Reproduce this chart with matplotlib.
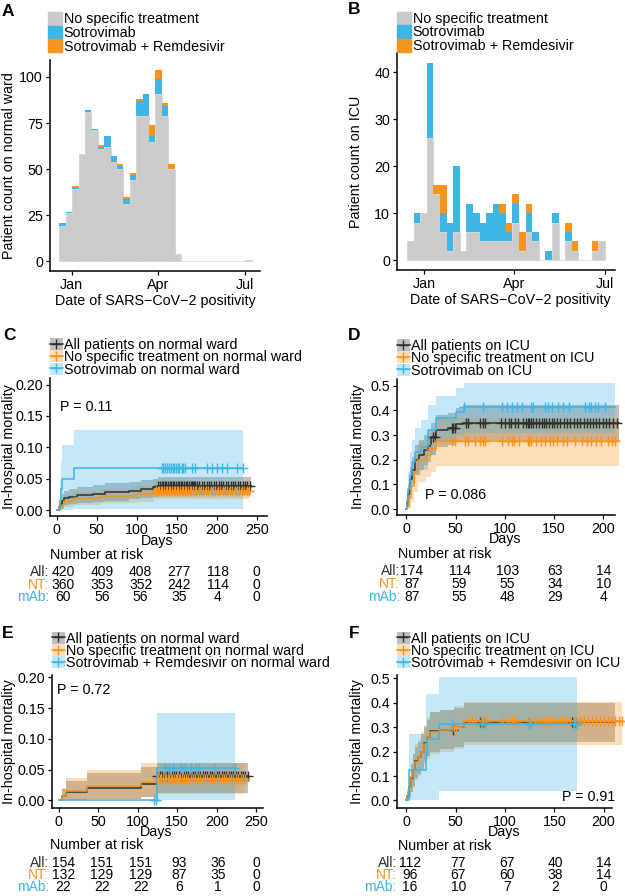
import numpy as np
import matplotlib
matplotlib.use('Agg')
import matplotlib.pyplot as plt
import matplotlib.dates as mdates
from matplotlib.patches import Patch
from matplotlib.lines import Line2D
from matplotlib.transforms import blended_transform_factory

plt.rcParams['font.family'] = ['Liberation Sans', 'DejaVu Sans']
plt.rcParams['font.size'] = 10

W, H = 625, 896
GRAY = '#CBCBCB'
BLUE = '#3DB5E6'
ORANGE = '#F7931E'
BLACK = '#2F2F2F'

# ---- histograms (30 bins each) ----
ward_none = [19, 26, 39, 58, 81, 71, 61, 62, 54, 50, 31, 44, 79, 79, 65, 91, 79, 50, 4, 0, 0, 0, 0, 0, 0, 0, 0, 0, 0, 1]
ward_sotro = [2, 1, 1, 0, 1, 1, 1, 6, 3, 2, 3, 3, 8, 12, 3, 8, 5, 0, 0, 0, 0, 0, 0, 0, 0, 0, 0, 0, 0, 0]
ward_remd = [0, 0, 1, 0, 0, 0, 1, 0, 0, 1, 1, 1, 1, 0, 6, 5, 2, 3, 0, 0, 0, 0, 0, 0, 0, 0, 0, 0, 0, 0]
ward_first_bin = '2021-12-19'
ward_bin_days = 6.7

icu_none = [4, 8, 10, 26, 14, 6, 2, 6, 2, 6, 6, 4, 4, 4, 4, 4, 8, 2, 6, 4, 0, 0, 8, 0, 4, 2, 0, 0, 2, 4]
icu_sotro = [0, 2, 0, 16, 0, 4, 6, 14, 0, 6, 4, 4, 6, 8, 6, 2, 4, 0, 4, 2, 0, 2, 2, 0, 2, 0, 0, 0, 0, 0]
icu_remd = [0, 0, 0, 0, 2, 6, 0, 0, 0, 0, 0, 0, 0, 0, 2, 2, 2, 4, 2, 0, 0, 0, 0, 0, 2, 2, 0, 0, 2, 0]
icu_first_bin = '2021-12-15'
icu_bin_days = 6.6

hist_labels = ['No specific treatment', 'Sotrovimab', 'Sotrovimab + Remdesivir']

# ---- Kaplan-Meier curves (cumulative mortality) ----
# C: normal ward, sotrovimab
c_all_t = [0, 3, 5, 7, 9, 15, 25, 45, 60, 90, 105, 120, 126]
c_all_m = [0, .005, .01, .014, .019, .021, .024, .026, .029, .031, .034, .036, .039]
c_all_lo = [0, 0, .002, .004, .008, .009, .011, .013, .015, .017, .019, .021, .024]
c_all_hi = [0, .012, .02, .025, .031, .033, .037, .04, .043, .045, .048, .05, .052]
c_all_end = 243
c_all_cens = [127, 129, 131, 133, 135, 137, 139, 141, 143, 145, 147, 149, 151, 153, 155, 157, 159, 161, 163,
              165, 167, 169, 170, 171, 173, 175, 178, 181, 184, 187, 190, 193, 196, 199, 202, 205, 208, 211,
              214, 217, 220, 223, 226, 229, 232, 235, 238, 241]
c_nt_t = [0, 3, 6, 9, 22, 55, 100, 122]
c_nt_m = [0, .003, .008, .014, .019, .023, .026, .031]
c_nt_lo = [0, 0, .001, .005, .008, .011, .013, .017]
c_nt_hi = [0, .009, .016, .024, .029, .034, .038, .046]
c_nt_end = 240
c_nt_cens = [124, 126, 128, 130, 132, 134, 136, 138, 140, 142, 144, 146, 148, 150, 152, 154, 156, 158, 160,
             162, 164, 166, 168, 170, 172, 174, 177, 180, 183, 186, 189, 192, 195, 198, 201, 204, 207, 210,
             213, 216, 219, 222, 225, 228, 231, 234, 237, 240]
c_mab_t = [0, 4, 5, 7, 22]
c_mab_m = [0, .0167, .033, .05, .0667]
c_mab_lo = [0, 0, 0, 0, .002]
c_mab_hi = [0, .048, .078, .104, .128]
c_mab_end = 232
c_mab_cens = [131, 133, 135, 138, 140, 143, 145, 147, 149, 151, 153, 156, 158, 160, 169, 173, 187, 194, 200,
              206, 212, 225, 232]

# D: ICU, sotrovimab
d_all_t = [0, 1, 2, 4, 6, 9, 13, 18, 22, 25, 30, 42, 50, 57]
d_all_m = [0, .023, .06, .12, .16, .2, .22, .24, .255, .29, .32, .33, .345, .35]
d_all_lo = [0, 0, .023, .07, .1, .14, .16, .18, .19, .22, .25, .26, .275, .28]
d_all_hi = [0, .046, .1, .17, .21, .26, .28, .3, .32, .35, .38, .39, .41, .42]
d_all_end = 216
d_all_cens = [27, 29, 46, 47, 49, 61, 63, 75, 78, 80, 96, 100, 104, 106, 110, 113, 118, 121, 123, 125, 127,
              129, 132, 135, 138, 140, 142, 145, 148, 150, 153, 156, 160, 163, 166, 170, 173, 176, 180, 183,
              186, 190, 193, 196, 200, 203, 206, 210, 214]
d_nt_t = [0, 1, 3, 5, 8, 12, 20, 25, 30]
d_nt_m = [0, .011, .046, .092, .15, .2, .22, .243, .275]
d_nt_lo = [0, 0, 0, .03, .07, .11, .13, .15, .175]
d_nt_hi = [0, .034, .09, .15, .22, .27, .29, .32, .37]
d_nt_end = 216
d_nt_cens = [25, 46, 49, 59, 63, 70, 75, 78, 80, 97, 103, 107, 109, 114, 124, 125, 127, 132, 137, 141, 146,
             149, 153, 159, 163, 171, 178, 183, 188, 193, 198, 205, 209, 212]
d_mab_t = [0, 1, 2, 4, 6, 9, 15, 22, 30, 50, 58]
d_mab_m = [0, .035, .08, .14, .19, .232, .253, .32, .368, .392, .414]
d_mab_lo = [0, 0, .01, .06, .1, .14, .16, .22, .27, .3, .31]
d_mab_hi = [0, .08, .15, .23, .28, .33, .36, .42, .46, .49, .51]
d_mab_end = 212
d_mab_cens = [58, 78, 97, 102, 107, 112, 117, 127, 129, 141, 144, 148, 154, 159, 165, 181, 185, 188, 192,
              195, 202]

# E: normal ward, sotrovimab + remdesivir
e_all_t = [0, 4, 9, 36, 104, 124]
e_all_m = [0, .0065, .013, .0195, .026, .039]
e_all_lo = [0, 0, 0, .002, .006, .012]
e_all_hi = [0, .018, .032, .045, .055, .06]
e_all_end = 240
e_all_cens = [125, 128, 131, 134, 137, 140, 143, 146, 149, 152, 155, 158, 161, 164, 167, 170, 173, 176, 179,
              182, 185, 188, 191, 194, 197, 200, 203, 206, 209, 212, 215, 218, 221, 224, 227, 230, 233, 236, 239]
e_nt_t = [0, 4, 9, 36, 104, 124]
e_nt_m = [0, .0076, .015, .0227, .03, .034]
e_nt_lo = [0, 0, 0, .002, .006, .01]
e_nt_hi = [0, .02, .036, .049, .061, .061]
e_nt_end = 236
e_nt_cens = [124, 126, 128, 130, 132, 134, 136, 138, 140, 142, 144, 146, 148, 150, 152, 154, 156, 158, 161,
             164, 167, 170, 173, 176, 179, 182, 185, 188, 191, 194, 197, 200, 203, 206, 209, 212, 215, 218,
             221, 224, 227, 230, 233, 236]
e_mab_t = [0, 124]
e_mab_m = [0, .052]
e_mab_lo = [0, 0]
e_mab_hi = [0, .142]
e_mab_end = 223
e_mab_cens = [120, 123, 135, 139, 145, 155, 160, 168, 174, 177, 197, 223]

# F: ICU, sotrovimab + remdesivir
f_all_t = [0, 1, 3, 5, 7, 9, 12, 15, 18, 21, 24, 34, 48, 58]
f_all_m = [0, .018, .054, .09, .125, .16, .178, .2, .235, .26, .285, .29, .3, .32]
f_all_lo = [0, 0, .01, .035, .06, .09, .11, .13, .16, .18, .2, .21, .22, .24]
f_all_hi = [0, .04, .1, .15, .19, .22, .24, .27, .3, .33, .36, .37, .38, .4]
f_all_end = 212
f_all_cens = [47, 75, 78, 124, 168, 171]
f_nt_t = [0, 1, 3, 5, 7, 9, 12, 15, 18, 21, 24, 34, 48, 58]
f_nt_m = [0, .021, .052, .094, .125, .156, .177, .198, .23, .26, .28, .29, .3, .325]
f_nt_lo = [0, 0, .005, .035, .055, .085, .1, .12, .15, .17, .19, .2, .21, .225]
f_nt_hi = [0, .05, .1, .15, .19, .23, .25, .28, .31, .34, .36, .37, .385, .405]
f_nt_end = 219
f_nt_cens = [48, 50, 63, 66, 70, 76, 78, 81, 97, 103, 107, 109, 112, 124, 125, 130, 133, 137, 140, 142, 144,
             147, 150, 153, 156, 159, 162, 166, 171, 175, 177, 180, 184, 188, 192, 196, 200, 204, 208, 212,
             216, 219]
f_mab_t = [0, 3, 20, 21, 33]
f_mab_m = [0, .125, .1875, .25, .3125]
f_mab_lo = [0, 0, 0, 0, .037]
f_mab_hi = [0, .27, .43, .435, .505]
f_mab_end = 173
f_mab_cens = [46, 76, 80, 124, 126, 170, 173]

# ---- numbers at risk ----
risk_rows = ['All:', 'NT:', 'mAb:']
risk_days_ward = [0, 50, 100, 150, 200, 250]
risk_days_icu = [0, 50, 100, 150, 200]
c_risk = [[420, 409, 408, 277, 118, 0], [360, 353, 352, 242, 114, 0], [60, 56, 56, 35, 4, 0]]
d_risk = [[174, 114, 103, 63, 14], [87, 59, 55, 34, 10], [87, 55, 48, 29, 4]]
e_risk = [[154, 151, 151, 93, 36, 0], [132, 129, 129, 87, 35, 0], [22, 22, 22, 6, 1, 0]]
f_risk = [[112, 77, 67, 40, 14], [96, 67, 60, 38, 14], [16, 10, 7, 2, 0]]


def box(l, t, r, b):
    return [l / W, 1 - b / H, (r - l) / W, (b - t) / H]


def style(ax):
    for s in ['top', 'right']:
        ax.spines[s].set_visible(False)
    for s in ['left', 'bottom']:
        ax.spines[s].set_linewidth(1.1)
        ax.spines[s].set_color('black')
    ax.tick_params(length=3, width=0.9, pad=2, labelsize=10.3, colors='black')


def place_labels(ax, xl, yl, xpos, ypos):
    ax.set_xlabel(xl, fontsize=10.3)
    ax.set_ylabel(yl, fontsize=10.3)
    ax.xaxis.label.set_va('center')
    ax.yaxis.label.set_va('center')
    ax.xaxis.set_label_coords(xpos[0], xpos[1])
    ax.yaxis.set_label_coords(ypos, 0.5)


def hist(ax, first, width, none, sotro, remd, ylim, yticks, xlim):
    x0 = mdates.date2num(np.datetime64(first))
    x = x0 + np.arange(len(none)) * width
    none = np.array(none)
    sotro = np.array(sotro)
    remd = np.array(remd)
    ax.bar(x, none, width=width, align='edge', color=GRAY, edgecolor=GRAY, lw=0.4)
    ax.bar(x, sotro, bottom=none, width=width, align='edge', color=BLUE, lw=0)
    ax.bar(x, remd, bottom=none + sotro, width=width, align='edge', color=ORANGE, lw=0)
    ref = mdates.date2num(np.datetime64('2022-01-01'))
    ax.set_xlim(ref + xlim[0], ref + xlim[1])
    ax.set_ylim(*ylim)
    ax.set_yticks(yticks)
    ax.xaxis.set_major_locator(mdates.MonthLocator(bymonth=[1, 4, 7]))
    ax.xaxis.set_major_formatter(mdates.DateFormatter('%b'))
    style(ax)
    return [Patch(color=c) for c in [GRAY, BLUE, ORANGE]]


def km(ax, t, m, lo, hi, end, cens, color, falpha=0.3):
    tt = np.append(t, end)
    mm = np.append(m, m[-1])
    ax.fill_between(tt, np.append(lo, lo[-1]), np.append(hi, hi[-1]), step='post',
                    color=color, alpha=falpha, lw=0, clip_on=False)
    ax.step(tt, mm, where='post', color=color, lw=1.1, clip_on=False)
    idx = np.searchsorted(t, cens, side='right') - 1
    ax.plot(cens, np.array(m)[idx], ls='none', marker='+', ms=6.5, mew=1.0, color=color, clip_on=False)


def km_legend(ax, labels, yoff):
    handles = []
    for c in [BLACK, ORANGE, BLUE]:
        handles.append((Patch(facecolor=c, alpha=0.3, lw=0),
                        Line2D([], [], color=c, lw=1.1, marker='+', ms=6.5, mew=1.0)))
    ax.legend(handles, labels, loc='lower left', bbox_to_anchor=(0, yoff), frameon=False,
              borderpad=0, borderaxespad=0, handlelength=0.9, handleheight=0.9,
              handletextpad=0.1, labelspacing=-0.12, fontsize=10.3)


def risk_table(pos, xlim, days, risk, label_x):
    rax = fig.add_axes(pos)
    rax.set_xlim(*xlim)
    rax.set_ylim(2.5, -0.5)
    rax.axis('off')
    tr = blended_transform_factory(rax.transAxes, rax.transData)
    for i, (lab, col) in enumerate(zip(risk_rows, [BLACK, ORANGE, BLUE])):
        rax.text(label_x, i, lab, transform=tr, ha='right', va='center', color=col, fontsize=10)
        for d, v in zip(days, risk[i]):
            rax.text(d, i, str(v), ha='center', va='center', fontsize=10, color='black')


fig = plt.figure(figsize=(W / 100, H / 100), dpi=100)

# ---- A ----
axA = fig.add_axes(box(50, 60, 260, 271))
hA = hist(axA, ward_first_bin, ward_bin_days, ward_none, ward_sotro, ward_remd,
          (-5.2, 109.2), [0, 25, 50, 75, 100], (-22.7, 196.7))
place_labels(axA, 'Date of SARS\u2212CoV\u22122 positivity', 'Patient count on normal ward',
             (0.5, -0.14), -0.195)
axA.legend(hA, hist_labels, loc='lower left', bbox_to_anchor=(-0.01, 1.03), frameon=False,
           borderpad=0, borderaxespad=0, handlelength=1.0, handleheight=1.0,
           handletextpad=0.1, labelspacing=-0.05, fontsize=10.3)

# ---- B ----
axB = fig.add_axes(box(397, 53, 615, 270))
hB = hist(axB, icu_first_bin, icu_bin_days, icu_none, icu_sotro, icu_remd,
          (-2.1, 44.1), [0, 10, 20, 30, 40], (-27.1, 191.3))
place_labels(axB, 'Date of SARS\u2212CoV\u22122 positivity', 'Patient count on ICU',
             (0.52, -0.14), -0.19)
axB.legend(hB, hist_labels, loc='lower left', bbox_to_anchor=(0, 1.0), frameon=False,
           borderpad=0, borderaxespad=0, handlelength=1.0, handleheight=1.0,
           handletextpad=0.1, labelspacing=-0.05, fontsize=10.3)

# ---- C ----
axC = fig.add_axes(box(50, 378, 267, 516))
km(axC, c_all_t, c_all_m, c_all_lo, c_all_hi, c_all_end, c_all_cens, BLACK)
km(axC, c_nt_t, c_nt_m, c_nt_lo, c_nt_hi, c_nt_end, c_nt_cens, ORANGE)
km(axC, c_mab_t, c_mab_m, c_mab_lo, c_mab_hi, c_mab_end, c_mab_cens, BLUE)
axC.set_xlim(-8.4, 262.5)
axC.set_ylim(-0.0095, 0.2105)
axC.set_xticks([0, 50, 100, 150, 200, 250])
axC.set_yticks([0, 0.05, 0.1, 0.15, 0.2])
axC.set_yticklabels(['0.00', '0.05', '0.10', '0.15', '0.20'])
style(axC)
place_labels(axC, 'Days', 'In-hospital mortality', (0.493, -0.178), -0.188)
axC.text(4, 0.165, 'P = 0.11', ha='left', va='center', fontsize=10.3)
km_legend(axC, ['All patients on normal ward', 'No specific treatment on normal ward',
                'Sotrovimab on normal ward'], 1.01)
risk_table(box(50, 566, 267, 603.5), (-17.2, 263.4), risk_days_ward, c_risk, -0.005)

# ---- D ----
axD = fig.add_axes(box(397, 379, 615, 515))
km(axD, d_all_t, d_all_m, d_all_lo, d_all_hi, d_all_end, d_all_cens, BLACK)
km(axD, d_nt_t, d_nt_m, d_nt_lo, d_nt_hi, d_nt_end, d_nt_cens, ORANGE)
km(axD, d_mab_t, d_mab_m, d_mab_lo, d_mab_hi, d_mab_end, d_mab_cens, BLUE)
axD.set_xlim(-9.6, 211.9)
axD.set_ylim(-0.024, 0.527)
axD.set_xticks([0, 50, 100, 150, 200])
axD.set_yticks([0, 0.1, 0.2, 0.3, 0.4, 0.5])
style(axD)
place_labels(axD, 'Days', 'In-hospital mortality', (0.495, -0.18), -0.181)
axD.text(18.6, 0.057, 'P = 0.086', ha='left', va='center', fontsize=10.3)
km_legend(axD, ['All patients on ICU', 'No specific treatment on ICU', 'Sotrovimab on ICU'], 1.01)
risk_table(box(397, 565, 615, 603.5), (-15.3, 212.3), risk_days_icu, d_risk, 0.014)

# ---- E ----
axE = fig.add_axes(box(52, 675, 263, 808))
km(axE, e_all_t, e_all_m, e_all_lo, e_all_hi, e_all_end, e_all_cens, BLACK)
km(axE, e_nt_t, e_nt_m, e_nt_lo, e_nt_hi, e_nt_end, e_nt_cens, ORANGE)
km(axE, e_mab_t, e_mab_m, e_mab_lo, e_mab_hi, e_mab_end, e_mab_cens, BLUE)
axE.set_xlim(-8.3, 258.4)
axE.set_ylim(-0.0123, 0.2037)
axE.set_xticks([0, 50, 100, 150, 200, 250])
axE.set_yticks([0, 0.05, 0.1, 0.15, 0.2])
axE.set_yticklabels(['0.00', '0.05', '0.10', '0.15', '0.20'])
style(axE)
place_labels(axE, 'Days', 'In-hospital mortality', (0.495, -0.18), -0.204)
axE.text(-2, 0.18, 'P = 0.72', ha='left', va='center', fontsize=10.3)
km_legend(axE, ['All patients on normal ward', 'No specific treatment on normal ward',
                'Sotrovimab + Remdesivir on normal ward'], 1.035)
risk_table(box(50, 857, 267, 892.5), (-17.2, 263.4), risk_days_ward, e_risk, -0.005)

# ---- F ----
axF = fig.add_axes(box(397, 675, 612, 808))
km(axF, f_all_t, f_all_m, f_all_lo, f_all_hi, f_all_end, f_all_cens, BLACK)
km(axF, f_nt_t, f_nt_m, f_nt_lo, f_nt_hi, f_nt_end, f_nt_cens, ORANGE)
km(axF, f_mab_t, f_mab_m, f_mab_lo, f_mab_hi, f_mab_end, f_mab_cens, BLUE)
axF.set_xlim(-9.6, 208.5)
axF.set_ylim(-0.031, 0.5135)
axF.set_xticks([0, 50, 100, 150, 200])
axF.set_yticks([0, 0.1, 0.2, 0.3, 0.4, 0.5])
style(axF)
place_labels(axF, 'Days', 'In-hospital mortality', (0.5, -0.178), -0.184)
axF.text(212, 0.016, 'P = 0.91', ha='right', va='center', fontsize=10.3)
km_legend(axF, ['All patients on ICU', 'No specific treatment on ICU',
                'Sotrovimab + Remdesivir on ICU'], 1.035)
risk_table(box(397, 857, 612, 892.5), (-13.5, 209.0), risk_days_icu, f_risk, -0.001)

# ---- "Number at risk" headers and panel letters ----
for px, py in [(50, 555), (398, 554), (50, 845), (398, 846)]:
    fig.text(px / W, 1 - py / H, 'Number at risk', ha='left', va='center', fontsize=10.3)
for lab, px, py in [('A', 7.5, 11), ('B', 354, 9), ('C', 9, 336), ('D', 354, 336),
                    ('E', 7.5, 633), ('F', 354, 634)]:
    fig.text(px / W, 1 - py / H, lab, ha='center', va='center', fontsize=12.5, fontweight='bold')

fig.savefig('out.png', dpi=100)
